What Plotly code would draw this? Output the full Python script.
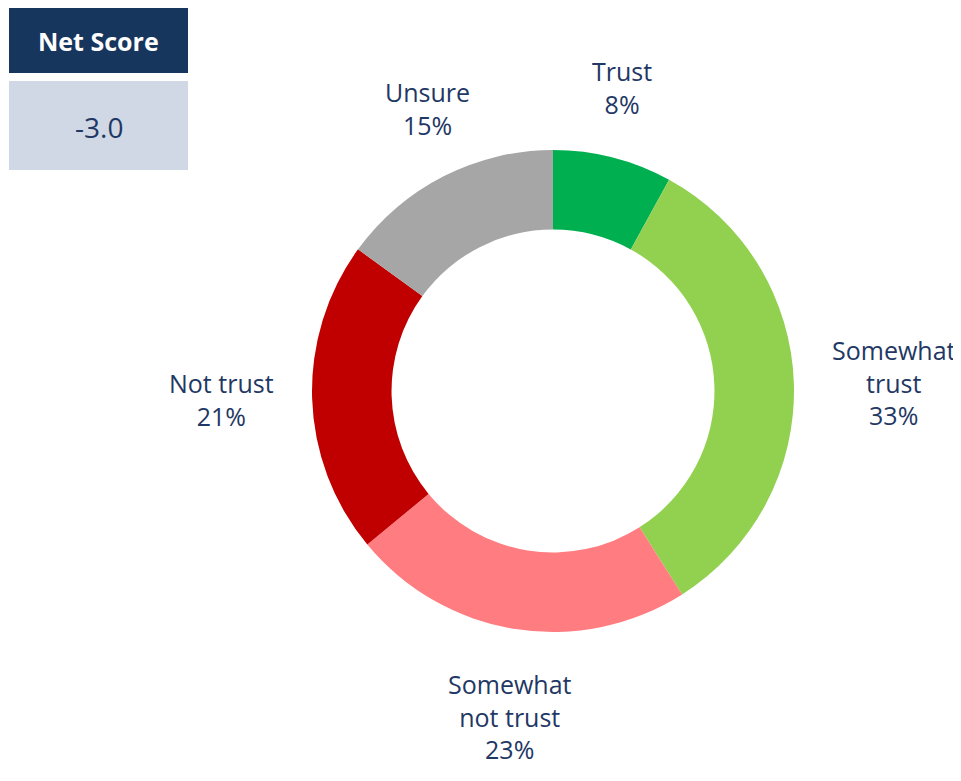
import math
import plotly.graph_objects as go

categories = ["Trust", "Somewhat<br>trust", "Somewhat<br>not trust", "Not trust", "Unsure"]
values = [8, 33, 23, 21, 15]
colors = ["#00B050", "#92D050", "#FF7C80", "#C00000", "#A6A6A6"]
net_score_label = "Net Score"
net_score_value = "-3.0"

# page body has an 8px margin; figure sized to fit the window
W, H = 953, 773
TXT = "#1F3864"
FONT = "Open Sans"

# donut geometry in figure pixels
CX, CY, R = 545, 383, 241
HOLE = 0.67
GAP = 36

fig = go.Figure()
fig.add_trace(go.Pie(
    labels=categories,
    values=values,
    marker=dict(colors=colors, line=dict(width=0)),
    hole=HOLE,
    sort=False,
    direction="clockwise",
    rotation=0,
    textinfo="none",
    domain=dict(x=[(CX - R) / W, (CX + R) / W], y=[1 - (CY + R) / H, 1 - (CY - R) / H]),
    showlegend=False,
    hoverinfo="label+percent",
))

# outside labels placed along each slice's bisector
total = sum(values)
cum = 0
for lab, v in zip(categories, values):
    mid = (cum + v / 2) / total
    cum += v
    th = 2 * math.pi * mid
    ux, uy = math.sin(th), math.cos(th)
    d = R + GAP
    px, py = CX + d * ux, CY - d * uy
    xa = "left" if ux > 0.5 else ("right" if ux < -0.5 else "center")
    ya = "bottom" if uy > 0.5 else ("top" if uy < -0.5 else "middle")
    fig.add_annotation(xref="paper", yref="paper", x=px / W, y=1 - py / H,
                       text=f"{lab}<br>{round(100 * v / total)}%",
                       showarrow=False, xanchor=xa, yanchor=ya, align="center",
                       font=dict(family=FONT, size=25, color=TXT))

# Net score boxes
fig.add_shape(type="rect", xref="paper", yref="paper",
              x0=1 / W, x1=180 / W, y0=1 - 65 / H, y1=1.01,
              fillcolor="#17365D", line=dict(width=0), layer="below")
fig.add_shape(type="rect", xref="paper", yref="paper",
              x0=1 / W, x1=180 / W, y0=1 - 162 / H, y1=1 - 73 / H,
              fillcolor="#D0D8E6", line=dict(width=0), layer="below")
fig.add_annotation(xref="paper", yref="paper", x=90.5 / W, y=1 - 33 / H,
                   text="<b>" + net_score_label + "</b>", showarrow=False,
                   font=dict(family=FONT, size=25, color="white"),
                   xanchor="center", yanchor="middle")
fig.add_annotation(xref="paper", yref="paper", x=90.5 / W, y=1 - 119 / H,
                   text=net_score_value, showarrow=False,
                   font=dict(family=FONT, size=28, color=TXT),
                   xanchor="center", yanchor="middle")

fig.update_layout(
    width=W, height=H,
    margin=dict(l=0, r=0, t=0, b=0),
    paper_bgcolor="white", plot_bgcolor="white",
)
fig.write_html("out.html")
